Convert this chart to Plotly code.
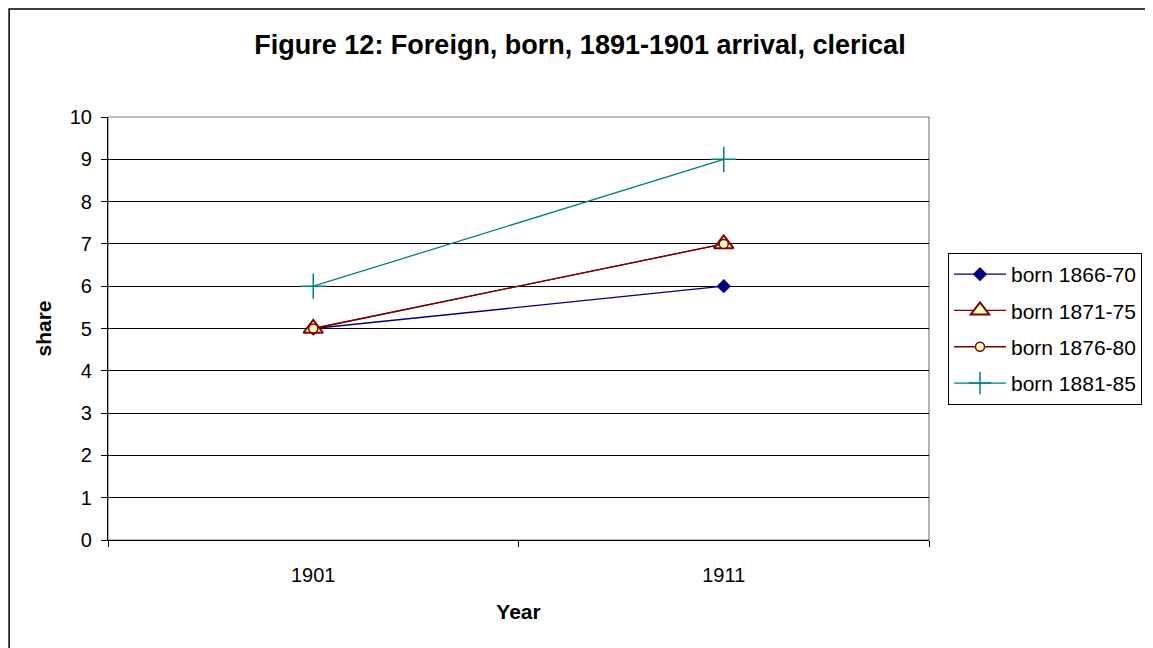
import plotly.graph_objects as go

years = ["1901", "1911"]
series_names = ["born 1866-70", "born 1871-75", "born 1876-80", "born 1881-85"]
born_1866_70 = [5, 6]
born_1871_75 = [5, 7]
born_1876_80 = [5, 7]
born_1881_85 = [6, 9]
y_ticks = list(range(0, 11))

# page has an 8px body margin; figure sized so it fills the 1153x648 window
OFF = 8
W, H = 1153 - OFF, 648 - OFF
L, T = 108 - OFF, 117 - OFF
pw, ph = 822, 423
R, B = W - L - pw, H - T - ph

xpos = list(range(len(years)))

fig = go.Figure()
fig.add_trace(go.Scatter(x=xpos, y=born_1866_70, name=series_names[0], mode="lines+markers",
                         legendgroup="a",
                         line=dict(color="#000080", width=1.3),
                         marker=dict(symbol="diamond", size=11, color="#000080")))
fig.add_trace(go.Scatter(x=xpos, y=born_1871_75, name=series_names[1], mode="lines+markers",
                         legendgroup="b",
                         line=dict(color="#800000", width=1.3),
                         marker=dict(symbol="triangle-up", size=17, color="#FFFFC0",
                                     line=dict(color="#800000", width=2))))
fig.add_trace(go.Scatter(x=xpos, y=born_1876_80, name=series_names[2], mode="lines+markers",
                         legendgroup="c",
                         line=dict(color="#800000", width=1.3),
                         marker=dict(symbol="circle", size=9, color="#FFFFC0",
                                     line=dict(color="#800000", width=1.5))))
fig.add_trace(go.Scatter(x=xpos, y=born_1881_85, name=series_names[3], mode="lines+markers",
                         legendgroup="d",
                         line=dict(color="#008080", width=1.3),
                         marker=dict(symbol="cross-thin", size=18,
                                     line=dict(color="#008080", width=1.5))))

fig.update_layout(
    width=W, height=H,
    margin=dict(l=L, r=R, t=T, b=B),
    paper_bgcolor="white", plot_bgcolor="white",
    font=dict(family="Liberation Sans, Arial, sans-serif", size=20, color="black"),
    title=dict(text="<b>Figure 12: Foreign, born, 1891-1901 arrival, clerical</b>",
               x=(580 - OFF) / W, xanchor="center", y=1 - (45 - OFF) / H, yanchor="middle",
               font=dict(size=27, color="black")),
    xaxis=dict(range=[-0.5, len(years) - 0.5], tickmode="array", tickvals=xpos, ticktext=years,
               ticks="", showgrid=False, zeroline=False, showline=True, linecolor="black",
               linewidth=1.2, mirror=False, ticklabelstandoff=17,
               tickfont=dict(size=20),
               minor=dict(tickmode="array", tickvals=[-0.5, 0.5, 1.5], ticks="outside",
                          ticklen=6, tickcolor="black", showgrid=False),
               title=dict(text="<b>Year</b>", font=dict(size=21), standoff=19)),
    yaxis=dict(range=[0, 10], tickmode="array", tickvals=y_ticks, ticks="outside", ticklen=6,
               tickcolor="black", showgrid=True, gridcolor="black", gridwidth=1,
               tickfont=dict(size=20), ticklabelstandoff=5,
               zeroline=False, showline=True, linecolor="black", linewidth=1.2,
               title=dict(text="<b>share</b>", font=dict(size=21), standoff=12)),
    legend=dict(x=(948 - 108) / pw, xanchor="left", y=(540 - 253) / ph, yanchor="top",
                bordercolor="black", borderwidth=1, bgcolor="white",
                font=dict(size=21), itemwidth=52, tracegroupgap=6),
    showlegend=True,
)

# plot-area frame (gray)
fig.add_shape(type="rect", xref="paper", yref="paper", x0=0, y0=0, x1=1, y1=1,
              line=dict(color="#808080", width=1.2), layer="below")
# outer chart border
fig.add_shape(type="rect", xref="paper", yref="paper",
              x0=(1 - L) / pw, x1=(1150 - OFF - L) / pw,
              y0=(T + ph - H - 20) / ph, y1=(T + ph - 1) / ph,
              line=dict(color="black", width=1.5))

fig.write_html("out.html")
